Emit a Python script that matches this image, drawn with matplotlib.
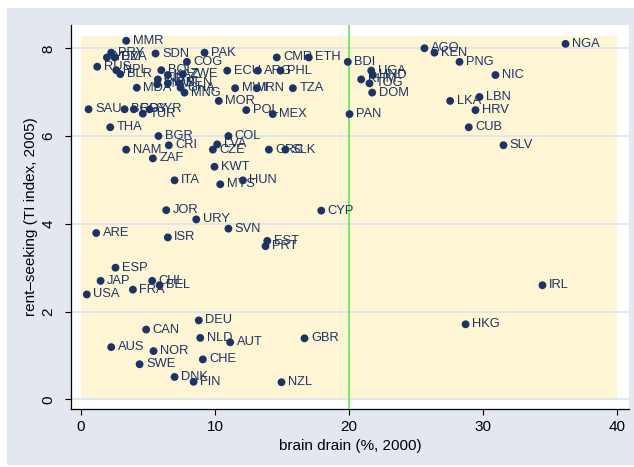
import matplotlib
matplotlib.use("Agg")
import matplotlib.pyplot as plt
from matplotlib.patches import Rectangle

countries = ["MMR","PRY","YEM","DZA","SDN","PAK","COG","RUS","NPL","BLR","BOL","KAZ","ZWE","IND","VNM","IDN","BEN","GHA","MNG","MDA",
             "ECU","ARG","PHL","CMR","ETH","BDI","MWI","IRN","TZA","MOR","POL","MEX","PAN","SAU","BGD","EGY","TUR","SYR","THA","BGR",
             "COL","NAM","CRI","ZAF","LVA","CZE","GRC","SLK","KWT","ITA","HUN","MYS","JOR","CYP","URY","SVN","ARE","ISR","EST","PRT",
             "ESP","JAP","CHL","BEL","FRA","USA","IRL","DEU","HKG","CAN","NLD","GBR","AUT","AUS","NOR","CHE","SWE","DNK","FIN","NZL",
             "NGA","AGO","KEN","PNG","UGA","HND","KHM","TOG","NIC","DOM","LBN","LKA","HRV","CUB","SLV"]
brain_drain = [3.37,2.25,1.93,2.51,5.56,9.22,7.90,1.21,2.63,2.93,5.99,6.48,7.60,5.73,5.69,6.48,7.35,7.43,7.72,4.16,
               10.91,13.20,14.89,14.61,17.00,19.91,11.50,13.12,15.81,10.28,12.33,14.31,20.04,0.56,3.25,3.94,4.61,5.11,2.18,5.78,
               11.00,3.37,6.55,5.36,10.16,9.84,14.02,15.26,9.96,6.98,12.08,10.39,6.36,17.93,8.60,11.00,1.13,6.48,13.90,13.77,
               2.57,1.46,5.31,5.86,3.87,0.43,34.44,8.79,28.70,4.86,8.90,16.68,11.13,2.25,5.41,9.09,4.37,6.98,8.40,14.96,
               36.16,25.63,26.38,28.25,21.66,21.78,20.91,21.53,30.93,21.73,29.74,27.55,29.44,28.94,31.53]
rent_seeking = [8.17,7.90,7.79,7.79,7.88,7.90,7.69,7.58,7.50,7.41,7.50,7.39,7.41,7.29,7.18,7.20,7.20,7.10,6.99,7.10,
                7.49,7.49,7.49,7.79,7.79,7.69,7.09,7.09,7.09,6.80,6.59,6.50,6.50,6.61,6.61,6.61,6.51,6.61,6.20,6.00,
                6.00,5.69,5.79,5.49,5.81,5.69,5.69,5.69,5.30,4.99,4.99,4.90,4.31,4.30,4.10,3.89,3.79,3.69,3.61,3.49,
                3.00,2.70,2.70,2.60,2.50,2.39,2.60,1.80,1.71,1.59,1.40,1.39,1.30,1.19,1.10,0.91,0.80,0.51,0.40,0.39,
                8.10,8.00,7.90,7.69,7.49,7.39,7.29,7.20,7.39,6.99,6.89,6.80,6.59,6.20,5.79]

x_ticks = [0, 10, 20, 30, 40]
y_ticks = [0, 2, 4, 6, 8]
x_label = "brain drain (%, 2000)"
y_label = "rent\u2013seeking (TI index, 2005)"
ref_x = 20
shade_x = (0, 40)
shade_top = 8.28

plt.rcParams['font.family'] = ['Liberation Sans', 'DejaVu Sans']

W, H = 634, 467
fig = plt.figure(figsize=(W/100, H/100), dpi=100, facecolor='white')
bg = Rectangle((7/W, 2/H), (W-7)/W, (H-10)/H, transform=fig.transFigure,
               facecolor='#e2e7f0', edgecolor='none', zorder=-10)
fig.add_artist(bg)

l, r, t, b = 71, 629, 25, 409
ax = fig.add_axes([l/W, 1-b/H, (r-l)/W, (b-t)/H])
ax.set_zorder(5)
ax.set_facecolor('white')
ax.set_xlim(-0.75, 40.9)
ax.set_ylim(-0.22, 8.53)

ax.add_patch(Rectangle((shade_x[0], 0), shade_x[1]-shade_x[0], shade_top,
                       facecolor='#fdf5d4', edgecolor='none', zorder=1))
for yv in y_ticks:
    ax.axhline(yv, color='#d8e1ee', lw=1.1, zorder=2)
ax.axvline(ref_x, color='#6ee85a', lw=1.3, zorder=2.5)

navy = '#1c3465'
for c, xv, yv in zip(countries, brain_drain, rent_seeking):
    ax.annotate(c, (xv, yv), xytext=(4.6, 0), textcoords='offset points',
                va='center', ha='left', fontsize=9.3, color=navy, zorder=3)
ax.scatter(brain_drain, rent_seeking, s=32, color=navy, edgecolors='none', zorder=4)

for s in ['top', 'right']:
    ax.spines[s].set_visible(False)
for s in ['left', 'bottom']:
    ax.spines[s].set_color('black')
    ax.spines[s].set_linewidth(0.9)

ax.set_xticks(x_ticks)
ax.set_yticks(y_ticks)
ax.tick_params(axis='x', direction='out', length=4.3, width=0.8, pad=3.5, labelsize=11)
ax.tick_params(axis='y', direction='out', length=4.3, width=0.8, pad=7, labelsize=11,
               labelrotation=90)
for lab in ax.get_yticklabels():
    lab.set_va('center')
ax.set_xlabel(x_label, fontsize=11)
ax.set_ylabel(y_label, fontsize=11)
ax.xaxis.set_label_coords(0.5, -0.078)
ax.yaxis.set_label_coords(-0.06, 0.5)

fig.savefig('out.png', dpi=100, facecolor=fig.get_facecolor())
